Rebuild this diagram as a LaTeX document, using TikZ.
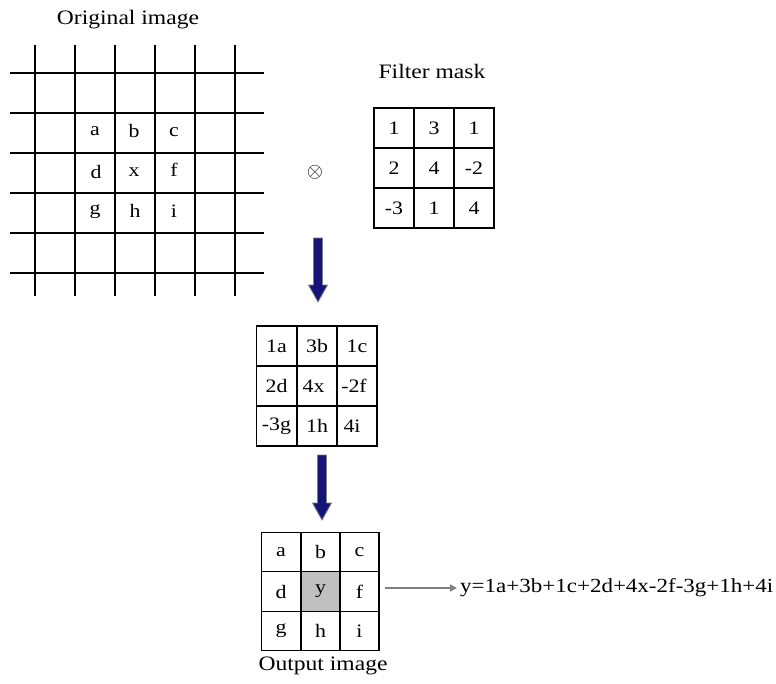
\documentclass[tikz,border=0pt]{standalone}
\usepackage{fontspec}
\setmainfont{Liberation Serif}[FakeStretch=1.15]
\usetikzlibrary{arrows.meta}
\definecolor{navy}{RGB}{20,20,120}
\definecolor{cellgray}{RGB}{192,192,192}
\begin{document}
\begin{tikzpicture}[x=1pt,y=-1pt,
  txt/.style={font=\fontsize{19}{22}\selectfont, inner sep=0pt},
  ttl/.style={font=\fontsize{20.5}{24}\selectfont, inner sep=0pt},
  cell/.style={draw=black, line width=1.3pt, minimum width=40pt, minimum height=40pt, inner sep=0pt, font=\fontsize{19}{22}\selectfont},
  ocell/.style={cell, minimum width=39pt, minimum height=39.5pt},
  gridline/.style={line width=1.3pt, black},
  blockarrow/.style={fill=navy, draw=gray, line width=0.8pt, line join=miter},
  thinarrow/.style={draw=gray, line width=1.8pt, -{Triangle[length=7pt,width=7pt]}}
]
\useasboundingbox (0,0) rectangle (776,683);

% ---- Original image ----
\node[ttl] (origtitle) at (128,20) {Original image};
\foreach \xx in {35,75,115,155,195,235} \draw[gridline] (\xx,45) -- (\xx,296);
\foreach \yy in {73,113,153,193,233,273} \draw[gridline] (10,\yy) -- (264,\yy);
\node[txt] (oa) at (95,131) {a};
\node[txt] (ob) at (134,131) {b};
\node[txt] (oc) at (174,132) {c};
\node[txt] (od) at (96,172) {d};
\node[txt] (ox) at (134,172) {x};
\node[txt] (of) at (174,170) {f};
\node[txt] (og) at (95,212) {g};
\node[txt] (oh) at (135,211) {h};
\node[txt] (oi) at (174,211) {i};

% ---- convolution symbol ----
\node[inner sep=0pt] (conv) at (315,172) {\fontsize{21}{24}\selectfont$\otimes$};

% ---- Filter mask ----
\node[ttl] (masktitle) at (432,71) {Filter mask};
\node[cell] (m11) at (394,128) {1};
\node[cell] (m12) at (434,128) {3};
\node[cell] (m13) at (474,128) {1};
\node[cell] (m21) at (394,168) {2};
\node[cell] (m22) at (434,168) {4};
\node[cell] (m23) at (474,168) {-2};
\node[cell] (m31) at (394,208) {-3};
\node[cell] (m32) at (434,208) {1};
\node[cell] (m33) at (474,208) {4};

% ---- block arrow 1 ----
\coordinate (a1) at (318,238);
\draw[blockarrow] (a1) ++(-4.5,0) -- ++(9,0) -- ++(0,47) -- ++(5,0) -- ++(-9.5,17) -- ++(-9.5,-17) -- ++(5,0) -- cycle;

% ---- Product grid ----
\node[cell] (p11) at (276.5,346) {1a};
\node[cell] (p12) at (317,346) {3b};
\node[cell] (p13) at (357,346) {1c};
\node[cell] (p21) at (276.5,386) {2d};
\node[cell] (p22) at (317,386) {\hspace*{-7pt}4x};
\node[cell] (p23) at (357,386) {\hspace*{-6pt}-2f};
\node[cell] (p31) at (276.5,426) {-3g};
\node[cell] (p32) at (317,426) {1h};
\node[cell] (p33) at (357,426) {\hspace*{-10pt}4i};

% ---- block arrow 2 ----
\coordinate (a2) at (322,455);
\draw[blockarrow] (a2) ++(-4.5,0) -- ++(9,0) -- ++(0,48) -- ++(5,0) -- ++(-9.5,17) -- ++(-9.5,-17) -- ++(5,0) -- cycle;

% ---- Output grid ----
\node[ocell] (q11) at (281,552) {a};
\node[ocell] (q12) at (320.5,552) {b};
\node[ocell] (q13) at (359.5,552) {c};
\node[ocell] (q21) at (281,591.5) {d};
\node[ocell, fill=cellgray] (q22) at (320.5,591.5) {y};
\node[ocell] (q23) at (359.5,591.5) {f};
\node[ocell] (q31) at (281,631) {g};
\node[ocell] (q32) at (320.5,631) {h};
\node[ocell] (q33) at (359.5,631) {i};
\node[ttl] (outtitle) at (323,666) {Output image};

% ---- equation ----
\node[txt, anchor=west, font=\fontsize{20}{23}\selectfont] (eq) at (460,588) {y=1a+3b+1c+2d+4x-2f-3g+1h+4i};
\draw[thinarrow] ([xshift=5pt]q23.east |- eq.west) -- ([xshift=-3pt]eq.west);
\end{tikzpicture}
\end{document}
